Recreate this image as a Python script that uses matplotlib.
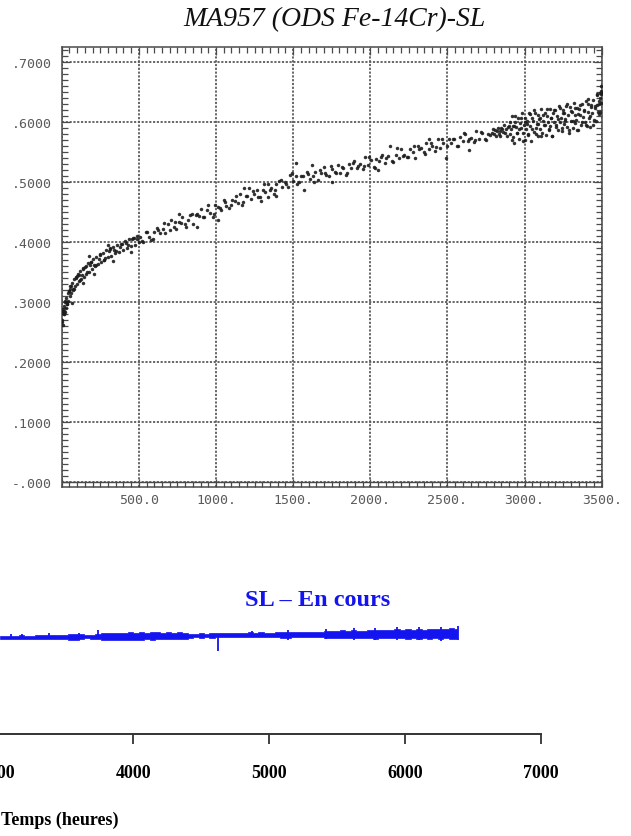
import matplotlib
matplotlib.use("Agg")
import matplotlib.pyplot as plt
from matplotlib.ticker import MultipleLocator

# ---------------- data ----------------
# Creep strain record, MA957 (ODS Fe-14Cr), first 3500 h
hours_early = [2, 3, 5, 7, 8, 10, 12, 14, 15, 18, 20, 22, 24, 26, 30, 33, 34, 36, 38, 42,
               45, 47, 52, 55, 57, 60, 62, 68, 72, 74, 78, 80, 86, 90, 92, 96, 99, 106, 110, 113,
               117, 120, 128, 132, 136, 140, 144, 152, 156, 160, 165, 169, 178, 182, 187, 192, 196, 205, 210, 215,
               220, 225, 235, 240, 245, 250, 255, 266, 272, 277, 282, 288, 299, 305, 310, 316, 322, 334, 340, 346,
               352, 358, 370, 376, 383, 390, 396, 409, 415, 422, 430, 435, 449, 455, 463, 470, 477, 485, 491, 500]
strain_early = [.266, .270, .281, .285, .262, .288, .279, .280, .293, .284, .283, .301, .300, .289, .306, .297, .297, .300, .314, .302,
                .318, .318, .309, .322, .326, .327, .314, .331, .322, .319, .322, .338, .326, .339, .341, .343, .329, .347, .345, .335,
                .336, .351, .338, .344, .356, .355, .342, .358, .360, .347, .350, .364, .349, .362, .366, .367, .355, .371, .361, .359,
                .362, .374, .363, .372, .379, .378, .366, .381, .370, .369, .373, .386, .374, .385, .389, .388, .377, .392, .387, .381,
                .384, .394, .383, .392, .397, .397, .386, .401, .398, .389, .394, .404, .393, .404, .407, .406, .395, .405, .409, .399]

hours_mid = [510, 528, 546, 564, 582, 600, 618, 636, 654, 672, 690, 708, 726, 744, 762, 780, 798, 816, 834, 852,
             870, 888, 906, 924, 942, 960, 978, 996, 1014, 1032, 1050, 1068, 1086, 1104, 1122, 1140, 1158, 1176, 1194, 1212,
             1230, 1248, 1266, 1284, 1302, 1320, 1338, 1356, 1374, 1392, 1410, 1428, 1446, 1464, 1482, 1500, 1518, 1536, 1554, 1572,
             1590, 1608, 1626, 1644, 1662, 1680, 1698, 1716, 1734, 1752, 1770, 1788, 1806, 1824, 1842, 1860, 1878, 1896, 1914, 1932,
             1950, 1968, 1986, 2004, 2022, 2040, 2058, 2076, 2094, 2112, 2130, 2148, 2166, 2184, 2202, 2220, 2238, 2256, 2274, 2292,
             2310, 2328, 2346, 2364, 2382, 2400, 2418, 2436, 2454, 2472, 2490, 2508, 2526, 2544, 2562, 2580, 2598, 2616, 2634, 2652,
             2670, 2688, 2706, 2724, 2742, 2760, 2778, 2796]
strain_mid = [.408, .400, .417, .408, .403, .417, .423, .414, .421, .414, .429, .437, .425, .422, .433, .441, .430, .437, .444, .430,
              .445, .443, .455, .441, .453, .448, .441, .462, .458, .453, .470, .460, .456, .470, .468, .465, .479, .466, .477, .489,
              .472, .480, .487, .474, .487, .483, .497, .489, .480, .497, .502, .491, .499, .492, .511, .501, .509, .499, .509, .487,
              .516, .505, .510, .517, .503, .515, .525, .512, .509, .521, .517, .528, .515, .523, .512, .530, .523, .534, .523, .529,
              .522, .542, .528, .537, .525, .538, .535, .544, .532, .543, .559, .533, .545, .540, .554, .545, .541, .554, .550, .540,
              .559, .557, .550, .564, .554, .560, .552, .571, .556, .565, .539, .572, .565, .571, .559, .575, .568, .580, .568, .573,
              .567, .585, .572, .581, .571, .580, .578, .588]

hours_mid_b = [519, 555, 591, 627, 663, 699, 735, 771, 807, 843, 879, 915, 951, 987, 1023, 1059, 1095, 1131, 1167, 1203,
               1239, 1275, 1311, 1347, 1383, 1419, 1455, 1491, 1527, 1563, 1599, 1635, 1671, 1707, 1743, 1779, 1815, 1851, 1887, 1923,
               1959, 1995, 2031, 2067, 2103, 2139, 2175, 2211, 2247, 2283, 2319, 2355, 2391, 2427, 2463, 2499, 2535, 2571, 2607, 2643,
               2679, 2715, 2751, 2787]
strain_mid_b = [.402, .416, .404, .419, .431, .419, .433, .431, .425, .447, .446, .442, .462, .446, .457, .467, .461, .477, .462, .476,
                .484, .475, .496, .487, .486, .503, .496, .515, .496, .509, .513, .499, .520, .514, .527, .514, .524, .515, .531, .527,
                .526, .541, .523, .542, .540, .535, .556, .543, .542, .559, .555, .546, .564, .558, .572, .560, .571, .560, .581, .571,
                .570, .583, .570, .582]

hours_late = [2802, 2808, 2814, 2820, 2826, 2832, 2838, 2844, 2850, 2856, 2862, 2868, 2874, 2880, 2886, 2892, 2898, 2904, 2910, 2916,
              2922, 2928, 2934, 2940, 2946, 2952, 2958, 2964, 2970, 2976, 2982, 2988, 2994, 3000, 3006, 3012, 3018, 3024, 3030, 3036,
              3042, 3048, 3054, 3060, 3066, 3072, 3078, 3084, 3090, 3096, 3102, 3108, 3114, 3120, 3126, 3132, 3138, 3144, 3150, 3156,
              3162, 3168, 3174, 3180, 3186, 3192, 3198, 3204, 3210, 3216, 3222, 3228, 3234, 3240, 3246, 3252, 3258, 3264, 3270, 3276,
              3282, 3288, 3294, 3300, 3306, 3312, 3318, 3324, 3330, 3336, 3342, 3348, 3354, 3360, 3366, 3372, 3378, 3384, 3390, 3396,
              3402, 3408, 3414, 3420, 3426, 3432, 3438, 3444, 3450, 3456, 3462, 3468, 3474, 3480, 3486, 3492, 3498,
              3470, 3485, 3490, 3494, 3497, 3499]
strain_late = [.580, .586, .577, .585, .590, .580, .585, .576, .590, .588, .583, .594, .581, .588, .576, .592, .593, .580, .588, .610,
               .574, .593, .565, .600, .591, .582, .607, .572, .598, .589, .615, .581, .595, .570, .607, .588, .602, .578, .614, .593,
               .568, .606, .601, .583, .614, .590, .597, .577, .611, .605, .588, .622, .581, .602, .595, .615, .578, .609, .600, .587,
               .621, .593, .606, .577, .614, .600, .620, .591, .610, .587, .626, .599, .606, .584, .615, .620, .597, .604, .626, .592,
               .612, .581, .624, .602, .616, .590, .632, .598, .612, .603, .623, .587, .622, .611, .595, .630, .608, .619, .600, .634,
               .593, .617, .629, .606, .591, .625, .615, .637, .603, .623, .601, .645, .616, .635, .617, .648, .632,
               .628, .630, .640, .652, .660, .648]

hours_late_b = [2905, 2917, 2929, 2941, 2953, 2965, 2977, 2989, 3001, 3013, 3025, 3037, 3049, 3061, 3073, 3085, 3097, 3109, 3121, 3133,
                3145, 3157, 3169, 3181, 3193, 3205, 3217, 3229, 3241, 3253, 3265, 3277, 3289, 3301, 3313, 3325, 3337, 3349, 3361, 3373,
                3385, 3397, 3409, 3421, 3433, 3445, 3457, 3469, 3481, 3493]
strain_late_b = [.599, .570, .593, .610, .581, .588, .607, .568, .600, .596, .579, .613, .588, .619, .580, .597, .607, .577, .612, .595,
                 .621, .588, .606, .576, .619, .594, .605, .623, .589, .614, .602, .629, .587, .618, .601, .623, .587, .613, .628, .600,
                 .618, .595, .638, .609, .628, .595, .626, .646, .613, .646]

hours_stray = [64, 140, 180, 212, 300, 330, 452, 760, 880, 1010, 1180, 1290, 1340, 1390, 1520, 1620, 1750, 2050, 2380, 2640]
strain_stray = [.298, .332, .376, .347, .395, .368, .383, .447, .425, .437, .490, .468, .474, .476, .532, .528, .500, .520, .572, .553]

y_ticks = [0.0, 0.1, 0.2, 0.3, 0.4, 0.5, 0.6, 0.7]
y_tick_labels = ['-.000', '.1000', '.2000', '.3000', '.4000', '.5000', '.6000', '.7000']
x_ticks = [0, 500, 1000, 1500, 2000, 2500, 3000, 3500]
x_tick_labels = ['', '500.0', '1000.', '1500.', '2000.', '2500.', '3000.', '3500.']

# Running test (SL, en cours): min/max band of the recorded signal in 40 h windows
blue_hours = [3020, 3060, 3100, 3140, 3180, 3220, 3260, 3300, 3340, 3380,
              3420, 3460, 3500, 3540, 3580, 3620, 3660, 3700, 3740, 3780,
              3820, 3860, 3900, 3940, 3980, 4020, 4060, 4100, 4140, 4180,
              4220, 4260, 4300, 4340, 4380, 4420, 4460, 4500, 4540, 4580,
              4620, 4660, 4700, 4740, 4780, 4820, 4860, 4900, 4940, 4980,
              5020, 5060, 5100, 5140, 5180, 5220, 5260, 5300, 5340, 5380,
              5420, 5460, 5500, 5540, 5580, 5620, 5660, 5700, 5740, 5780,
              5820, 5860, 5900, 5940, 5980, 6020, 6060, 6100, 6140, 6180,
              6220, 6260, 6300, 6340, 6380]
blue_low = [.610, .611, .610, .611, .610, .611, .610, .612, .611, .610,
            .612, .611, .610, .605, .604, .606, .613, .611, .608, .603,
            .604, .603, .605, .604, .604, .605, .605, .606, .605, .607,
            .607, .606, .608, .607, .609, .618, .619, .617, .620, .618,
            .619, .620, .619, .620, .621, .621, .619, .620, .619, .621,
            .620, .619, .618, .617, .620, .620, .619, .621, .619, .620,
            .616, .617, .616, .615, .617, .613, .616, .617, .614, .612,
            .617, .614, .617, .613, .616, .612, .617, .611, .616, .610,
            .615, .612, .616, .610, .612]
blue_high = [.630, .629, .631, .630, .632, .630, .631, .632, .633, .634,
             .632, .634, .635, .641, .643, .641, .634, .636, .640, .648,
             .648, .649, .648, .650, .651, .649, .651, .650, .652, .651,
             .650, .652, .650, .652, .650, .642, .643, .645, .643, .646,
             .645, .645, .646, .648, .646, .647, .651, .648, .651, .649,
             .650, .653, .655, .656, .652, .654, .655, .654, .657, .656,
             .660, .661, .662, .664, .661, .667, .663, .663, .666, .669,
             .664, .668, .665, .670, .667, .672, .667, .674, .669, .676,
             .671, .675, .672, .678, .676]

# isolated excursions of the same signal
spike_hours = [3100, 3180, 3380, 3600, 3740, 4620, 4870, 5140, 5420, 5620, 5780, 5940, 6100, 6260, 6390]
spike_low = [.620, .620, .620, .600, .615, .530, .625, .600, .610, .605, .602, .600, .600, .598, .600]
spike_high = [.642, .640, .648, .648, .668, .640, .660, .665, .675, .678, .680, .684, .686, .688, .690]

lower_ticks = [3000, 4000, 5000, 6000, 7000]
lower_tick_labels = ['3000', '4000', '5000', '6000', '7000']

# ---------------- figure ----------------
W, H = 631, 837
fig = plt.figure(figsize=(W / 100, H / 100), dpi=100)
fig.patch.set_facecolor('white')


def box(left, top, right, bottom):
    return [left / W, 1 - bottom / H, (right - left) / W, (bottom - top) / H]


FRAME = '#4a4a4a'
GRID = '#5c5c5c'
LABEL = '#5a5a5a'
DOTS = '#1c1c1c'
BLUE = '#1414f0'

# ---- upper panel: creep curve ----
ax = fig.add_axes(box(61.7, 48, 601.7, 487.5))
ax.set_xlim(0, 3500)
ax.set_ylim(-0.008, 0.7245)

ax.grid(True, which='major', color=GRID, linestyle=(0, (1.2, 0.9)), linewidth=1.3)
ax.set_axisbelow(True)
ax.axhline(0.0, color=FRAME, linewidth=1.0, zorder=2)

mk = dict(linestyle='none', marker='o', markersize=2.5, color=DOTS, markeredgewidth=0, alpha=0.9, zorder=3)
ax.plot(hours_early, strain_early, **mk)
ax.plot(hours_mid, strain_mid, **mk)
ax.plot(hours_mid_b, strain_mid_b, **mk)
ax.plot(hours_late, strain_late, **mk)
ax.plot(hours_late_b, strain_late_b, **mk)
ax.plot(hours_stray, strain_stray, **mk)

ax.set_xticks(x_ticks, x_tick_labels)
ax.set_yticks(y_ticks, y_tick_labels)
ax.xaxis.set_minor_locator(MultipleLocator(50))
ax.yaxis.set_minor_locator(MultipleLocator(0.01))
ax.tick_params(which='both', direction='in', top=True, right=True, color=FRAME, width=0.9)
ax.tick_params(which='major', length=6)
ax.tick_params(which='minor', length=4)
ax.tick_params(axis='x', which='minor', length=4.5)
ax.tick_params(axis='y', pad=7, labelsize=9.5, labelcolor=LABEL)
ax.tick_params(axis='x', pad=5, labelsize=9.5, labelcolor=LABEL)
for lab in ax.get_xticklabels() + ax.get_yticklabels():
    lab.set_fontfamily('DejaVu Sans Mono')
for sp in ax.spines.values():
    sp.set_color(FRAME)
    sp.set_linewidth(1.1)

fig.text(334 / W, 1 - 20 / H, 'MA957 (ODS Fe-14Cr)-SL', ha='center', va='center',
         fontsize=20, fontstyle='italic', family='Liberation Serif', color='#111111')

# ---- lower panel: running test ----
ax2 = fig.add_axes(box(-20, 579, 541.3, 735))
ax2.patch.set_alpha(0)
ax2.set_xlim(2873, 7000)
ax2.set_ylim(0, 1)
ax2.fill_between(blue_hours, blue_low, blue_high, step='mid', color=BLUE, linewidth=0.5, edgecolor=BLUE)
ax2.vlines(spike_hours, spike_low, spike_high, color=BLUE, linewidth=1.3)
for s in ('left', 'right', 'top'):
    ax2.spines[s].set_visible(False)
ax2.spines['bottom'].set_color('#333333')
ax2.spines['bottom'].set_linewidth(1.4)
ax2.set_yticks([])
ax2.set_xticks(lower_ticks, lower_tick_labels)
ax2.tick_params(axis='x', direction='out', length=7.5, width=1.3, color='#333333', pad=14, labelsize=13)
for lab in ax2.get_xticklabels():
    lab.set_fontfamily('Liberation Serif')
    lab.set_fontweight('bold')
ax2.set_xlabel('Temps (heures)', loc='left', fontsize=13, fontweight='bold', family='Liberation Serif')
ax2.xaxis.set_label_coords(21 / 561.3, -77 / 156)

ax2.text((318 + 20) / 561.3, (735 - 601) / 156, 'SL \u2013 En cours', transform=ax2.transAxes,
         ha='center', va='center', fontsize=17.5, fontweight='bold', family='Liberation Serif', color=BLUE)

fig.savefig('out.png', dpi=100, facecolor='white')
